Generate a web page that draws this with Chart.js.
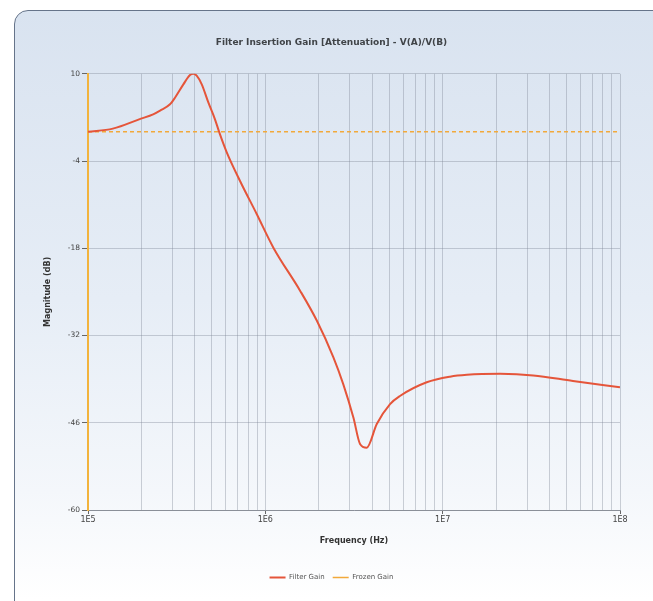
<!DOCTYPE html>
<html>
<head>
<meta charset="utf-8">
<script src="https://cdn.jsdelivr.net/npm/chart.js@4"></script>
<style>
  html, body { margin: 0; padding: 0; background: #fff; }
  #wrap { position: absolute; left: 0; top: 0; width: 653px; height: 601px; overflow: hidden; }
  #card {
    position: absolute; left: 14px; top: 10px; width: 660px; height: 640px;
    border: 1.5px solid #66748a; border-radius: 14px;
    background: linear-gradient(to bottom, #d9e3f0 0%, #e6edf6 45%, #f4f7fb 75%, #ffffff 92%);
  }
  #box { position: absolute; left: 0; top: 0; width: 653px; height: 601px; }
</style>
</head>
<body>
<div id="wrap">
  <div id="card"></div>
  <div id="box"><canvas id="chart"></canvas></div>
</div>
<script>
// frequency (Hz) and gain (dB)
const freqHz = [1.0e5, 1.38e5, 1.99e5, 2.33e5, 2.55e5, 2.9e5, 3.1e5, 3.45e5, 3.76e5, 3.93e5,
  4.1e5, 4.38e5, 4.77e5, 5.2e5, 5.5e5, 6.06e5, 7.2e5, 8.94e5, 1.11e6, 1.57e6,
  1.95e6, 2.42e6, 2.75e6, 3.14e6, 3.42e6, 3.73e6, 4.25e6, 5.05e6, 5.74e6, 8.13e6,
  1.1e7, 1.37e7, 2.11e7, 3.24e7, 5.43e7, 1.0e8];
const filterGain = [0.7, 1.2, 2.8, 3.5, 4.1, 5.1, 6.2, 8.3, 9.8, 10,
  9.7, 8.3, 5.4, 2.7, 0.6, -2.6, -7.2, -12.5, -17.9, -24.8,
  -29.6, -35.5, -39.8, -45.2, -49.4, -50.0, -46.2, -43.0, -41.7, -39.5,
  -38.6, -38.3, -38.15, -38.4, -39.3, -40.3];
const frozenFreq = [1e5, 1e8];
const frozenGain = [0.7, 0.7];

const yTicks = [10, -4, -18, -32, -46, -60];
const decadeLabels = {100000: '1E5', 1000000: '1E6', 10000000: '1E7', 100000000: '1E8'};

const fontFam = '"DejaVu Sans", Verdana, sans-serif';
const gridCol = 'rgba(125,135,150,0.38)';

const ctx = document.getElementById('chart').getContext('2d');

const chart = new Chart(ctx, {
  type: 'line',
  data: {
    datasets: [
      {
        label: 'Filter Gain',
        data: freqHz.map((f, i) => ({x: f, y: filterGain[i]})),
        borderColor: '#e5553a',
        backgroundColor: '#e5553a',
        borderWidth: 2,
        pointRadius: 0,
        cubicInterpolationMode: 'monotone',
        fill: false,
      },
      {
        label: 'Frozen Gain',
        data: frozenFreq.map((f, i) => ({x: f, y: frozenGain[i]})),
        borderColor: '#f2a93b',
        backgroundColor: '#f2a93b',
        borderWidth: 1.5,
        borderDash: [4, 3],
        pointRadius: 0,
        fill: false,
      },
    ],
  },
  options: {
    responsive: true,
    maintainAspectRatio: false,
    animation: false,
    layout: { padding: { left: 43, right: 33, top: 34, bottom: 10 } },
    plugins: {
      title: {
        display: true,
        text: 'Filter Insertion Gain [Attenuation] - V(A)/V(B)',
        color: '#404448',
        font: { family: fontFam, size: 9, weight: 'bold' },
        padding: { top: 3, bottom: 26 },
      },
      legend: {
        position: 'bottom',
        labels: {
          usePointStyle: true,
          pointStyle: 'line',
          pointStyleWidth: 16,
          boxHeight: 6,
          color: '#555',
          padding: 8,
          font: { family: fontFam, size: 7 },
        },
      },
      tooltip: { enabled: false },
    },
    scales: {
      x: {
        type: 'logarithmic',
        min: 1e5,
        max: 1e8,
        afterBuildTicks: (scale) => {
          const t = [];
          for (let d = 1e5; d < 1e8; d *= 10) {
            for (let m = 1; m < 10; m++) t.push({ value: d * m });
          }
          t.push({ value: 1e8 });
          scale.ticks = t;
        },
        afterFit: (scale) => { scale.height = 56; },
        ticks: {
          autoSkip: false,
          maxRotation: 0,
          color: '#444',
          padding: 1,
          font: { family: fontFam, size: 8 },
          callback: (v) => decadeLabels[v] || '',
        },
        grid: {
          color: gridCol,
          lineWidth: 1,
          tickLength: 4,
          tickColor: (c) => (decadeLabels[c.tick && c.tick.value] ? '#666' : 'rgba(0,0,0,0)'),
        },
        border: { color: '#8a8f98', width: 1 },
        title: {
          display: true,
          text: 'Frequency (Hz)',
          color: '#333',
          font: { family: fontFam, size: 8, weight: 'bold' },
          padding: { top: 4, bottom: 20 },
        },
      },
      y: {
        type: 'linear',
        min: -60,
        max: 10,
        afterBuildTicks: (scale) => { scale.ticks = yTicks.map((v) => ({ value: v })); },
        afterFit: (scale) => { scale.width = 45; },
        ticks: {
          color: '#444',
          padding: 2,
          font: { family: fontFam, size: 7.5 },
        },
        grid: {
          color: gridCol,
          lineWidth: 1,
          tickLength: 6,
          tickColor: '#666',
        },
        border: { color: '#f2b33d', width: 2 },
        title: {
          display: true,
          text: 'Magnitude (dB)',
          color: '#333',
          font: { family: fontFam, size: 8, weight: 'bold' },
          padding: 0,
        },
      },
    },
  },
});
</script>
</body>
</html>
